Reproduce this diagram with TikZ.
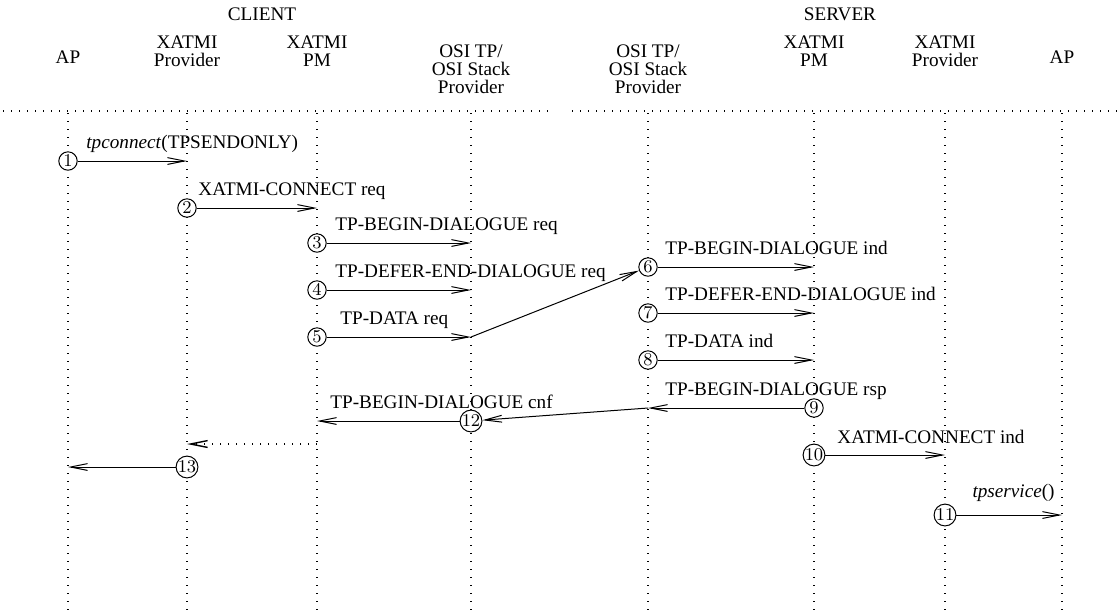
\documentclass[tikz,border=0pt]{standalone}
\usepackage{fontspec}
\setmainfont{Liberation Serif}
\usetikzlibrary{arrows.meta}

\begin{document}
\begin{tikzpicture}[
  x=0.5pt, y=-0.5pt,
  every node/.style={font=\fontsize{9.6}{9}\selectfont},
  hdr/.style={align=center, inner sep=0pt},
  num/.style={circle, draw, fill=white, line width=0.5pt, inner sep=0pt,
    minimum size=9.2pt, font=\fontsize{9}{9}\selectfont},
  msg/.style={anchor=base west, inner sep=0pt},
  arr/.style={line width=0.5pt, -{Straight Barb[length=8.5pt,width=3.4pt]}},
  life/.style={line width=0.7pt, dash pattern=on 0.7pt off 3.3pt}
]
  \useasboundingbox (0,0) rectangle (1117,612);

  % headers
  \node[hdr] (client) at (262,14) {CLIENT};
  \node[hdr] (server) at (840,14) {SERVER};
  \node[hdr] (hap1)  at (68,57)   {AP};
  \node[hdr] (hxp1)  at (187,51)  {XATMI\\Provider};
  \node[hdr] (hpm1)  at (317,51)  {XATMI\\PM};
  \node[hdr] (hosi1) at (471,69)  {OSI TP/\\OSI Stack\\Provider};
  \node[hdr] (hosi2) at (648,69)  {OSI TP/\\OSI Stack\\Provider};
  \node[hdr] (hpm2)  at (814,51)  {XATMI\\PM};
  \node[hdr] (hxp2)  at (945,51)  {XATMI\\Provider};
  \node[hdr] (hap2)  at (1062,57) {AP};

  % lifelines
  \draw[life] (3,111) -- (552,111);
  \draw[life] (572,111) -- (1117,111);
  \foreach \lx in {68,187,317,471,648,814,945,1062}
    \draw[life] (\lx,113) -- (\lx,612);

  % circled steps
  \node[num] (c1)  at (68,161)  {$1$};
  \node[num] (c2)  at (187,208) {$2$};
  \node[num] (c3)  at (317,243) {$3$};
  \node[num] (c4)  at (317,290) {$4$};
  \node[num] (c5)  at (317,337) {$5$};
  \node[num] (c6)  at (648,267) {$6$};
  \node[num] (c7)  at (648,313) {$7$};
  \node[num] (c8)  at (648,360) {$8$};
  \node[num] (c9)  at (814,408) {$9$};
  \node[num] (c10) at (814,455) {$10$};
  \node[num] (c11) at (945,515) {$11$};
  \node[num] (c12) at (471,421) {$12$};
  \node[num] (c13) at (187,467) {$13$};

  % arrow ends on lifelines
  \coordinate (e1)  at (187,161);
  \coordinate (e2)  at (317,208);
  \coordinate (e3)  at (471,243);
  \coordinate (e4)  at (471,290);
  \coordinate (e5)  at (471,337);
  \coordinate (e6)  at (814,267);
  \coordinate (e7)  at (814,313);
  \coordinate (e8)  at (814,360);
  \coordinate (e9)  at (648,408);
  \coordinate (e10) at (945,455);
  \coordinate (e11) at (1062,515);
  \coordinate (e12) at (317,421);
  \coordinate (e13) at (68,467);
  \coordinate (d1)  at (317,444);
  \coordinate (d2)  at (187,444);

  \draw[arr] (c1) -- (e1);
  \draw[arr] (c2) -- (e2);
  \draw[arr] (c3) -- (e3);
  \draw[arr] (c4) -- (e4);
  \draw[arr] (c5) -- (e5); \draw[arr] (e5) -- (c6);
  \draw[arr] (c6) -- (e6);
  \draw[arr] (c7) -- (e7);
  \draw[arr] (c8) -- (e8);
  \draw[arr] (c9) -- (e9); \draw[arr] (e9) -- (c12);
  \draw[arr] (c12) -- (e12);
  \draw[arr, life] (d1) -- (d2);
  \draw[arr] (c13) -- (e13);
  \draw[arr] (c10) -- (e10);
  \draw[arr] (c11) -- (e11);

  % message labels
  \node[msg] (l1)  at (86,148)  {\textit{tpconnect}(TPSENDONLY)};
  \node[msg] (l2)  at (198,195) {XATMI-CONNECT req};
  \node[msg] (l3)  at (335,230) {TP-BEGIN-DIALOGUE req};
  \node[msg] (l4)  at (335,277) {TP-DEFER-END-DIALOGUE req};
  \node[msg] (l5)  at (340,324) {TP-DATA req};
  \node[msg] (l6)  at (665,254) {TP-BEGIN-DIALOGUE ind};
  \node[msg] (l7)  at (665,300) {TP-DEFER-END-DIALOGUE ind};
  \node[msg] (l8)  at (665,347) {TP-DATA ind};
  \node[msg] (l9)  at (665,395) {TP-BEGIN-DIALOGUE rsp};
  \node[msg] (l12) at (330,408) {TP-BEGIN-DIALOGUE cnf};
  \node[msg] (l10) at (837,443) {XATMI-CONNECT ind};
  \node[msg, anchor=base east] (l11) at (1055,497) {\textit{tpservice}()};
\end{tikzpicture}
\end{document}
